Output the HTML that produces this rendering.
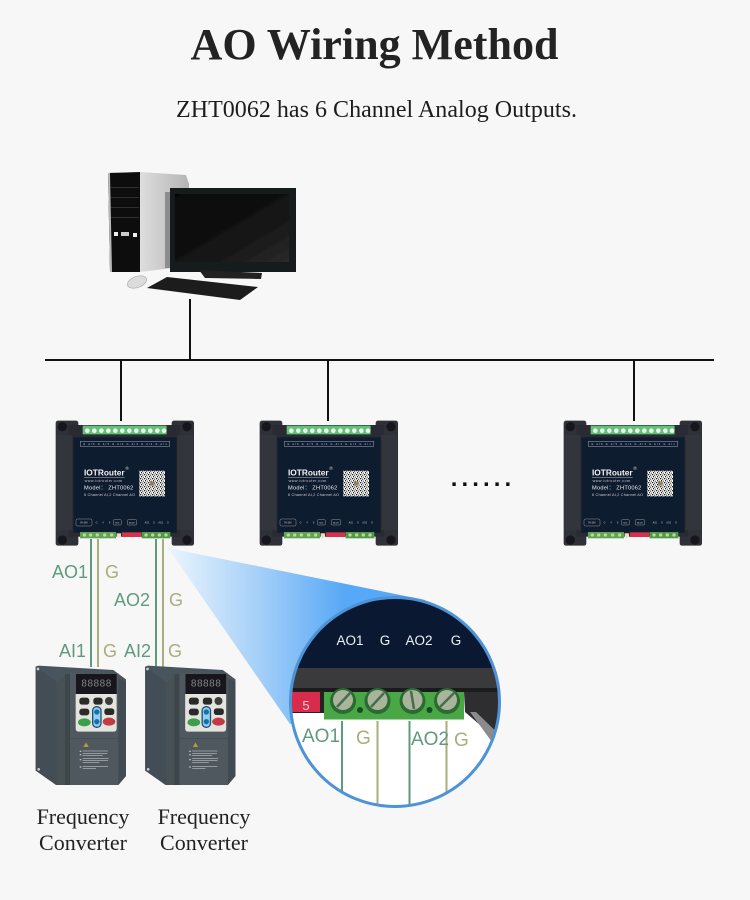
<!DOCTYPE html>
<html>
<head>
<meta charset="utf-8">
<style>
html,body{margin:0;padding:0;background:#f7f7f7;}
svg{display:block;}
text{font-family:"Liberation Sans",sans-serif;}
.serif{font-family:"Liberation Serif",serif;}
</style>
</head>
<body>
<svg width="750" height="900" viewBox="0 0 750 900" xmlns="http://www.w3.org/2000/svg">
<defs>
<linearGradient id="beam" gradientUnits="userSpaceOnUse" x1="170" y1="600" x2="345" y2="600">
<stop offset="0" stop-color="#eaf4fd"/>
<stop offset=".5" stop-color="#a6d0f8"/>
<stop offset="1" stop-color="#57a8f6"/>
</linearGradient>
<linearGradient id="tower" x1="0" x2="1" y1="0" y2="0">
<stop offset="0" stop-color="#dedede"/><stop offset="1" stop-color="#b4b4b4"/>
</linearGradient>
<linearGradient id="screen" x1="0" x2="1" y1="0" y2="1">
<stop offset="0" stop-color="#060606"/><stop offset=".6" stop-color="#141414"/><stop offset="1" stop-color="#2a2a2a"/>
</linearGradient>
<pattern id="qr" width="12" height="12" patternUnits="userSpaceOnUse">
<rect width="12" height="12" fill="#fff"/>
<rect x="0" y="0" width="4" height="4" fill="#222"/><rect x="6" y="2" width="4" height="3" fill="#333"/>
<rect x="3" y="6" width="3" height="4" fill="#222"/><rect x="8" y="8" width="4" height="3" fill="#444"/>
</pattern>
<clipPath id="lens"><circle cx="395" cy="702" r="104"/></clipPath>
<filter id="soft" x="-5%" y="-5%" width="110%" height="110%"><feGaussianBlur stdDeviation=".35"/></filter>

<g id="device">
<rect x="47" y="32" width="68" height="375" rx="7" fill="#2f3237"/>
<rect x="395" y="32" width="67" height="375" rx="7" fill="#2f3237"/>
<rect x="85" y="45" width="335" height="335" fill="#2a2c30"/>
<rect x="50" y="75" width="47" height="285" fill="#33363b"/>
<rect x="412" y="75" width="47" height="285" fill="#33363b"/>
<circle cx="67" cy="50" r="14" fill="#17181a"/><circle cx="441" cy="50" r="14" fill="#17181a"/>
<circle cx="67" cy="390" r="14" fill="#17181a"/><circle cx="441" cy="390" r="14" fill="#17181a"/>
<rect x="128" y="47" width="252" height="26" rx="2" fill="#62c078"/>
<g fill="#e9f7ea">
<circle cx="142" cy="62" r="7"/><circle cx="163" cy="62" r="7"/><circle cx="184" cy="62" r="7"/><circle cx="205" cy="62" r="7"/><circle cx="226" cy="62" r="7"/><circle cx="247" cy="62" r="7"/><circle cx="268" cy="62" r="7"/><circle cx="289" cy="62" r="7"/><circle cx="310" cy="62" r="7"/><circle cx="331" cy="62" r="7"/><circle cx="352" cy="62" r="7"/><circle cx="372" cy="62" r="7"/>
</g>
<rect x="100" y="82" width="310" height="286" fill="#0f1a2f"/>
<rect x="121" y="94" width="268" height="15" fill="none" stroke="#aab" stroke-width="1.5"/>
<text x="255" y="105" font-size="7" fill="#dde" text-anchor="middle" textLength="250" lengthAdjust="spacing">G AI6 G AI5 G AI4 G AI3 G AI2 G AI1</text>
<text x="132" y="196" font-size="26" font-weight="bold" fill="#f2f2f2" textLength="122" lengthAdjust="spacingAndGlyphs">IOTRouter</text>
<text x="256" y="180" font-size="14" fill="#ddd">®</text>
<text x="134" y="216" font-size="11" fill="#c8c8d0" textLength="112">www.iotrouter.com</text>
<rect x="132" y="202" width="122" height="1.5" fill="#bbb"/>
<text x="132" y="239" font-size="17" fill="#eee" textLength="148">Model： ZHT0062</text>
<text x="132" y="258" font-size="11.5" fill="#ccc" textLength="153">6 Channel AI,2 Channel AO</text>
<rect x="298" y="182" width="77" height="77" fill="url(#qr)"/>
<rect x="330" y="214" width="13" height="13" fill="#9a7b5a"/>
<rect x="108" y="327" width="48" height="21" rx="4" fill="none" stroke="#999" stroke-width="1.5"/>
<rect x="220" y="329" width="24" height="16" rx="3" fill="none" stroke="#999" stroke-width="1.5"/>
<rect x="262" y="329" width="28" height="16" rx="3" fill="none" stroke="#999" stroke-width="1.5"/>
<text x="132" y="341" font-size="7" fill="#ccc" text-anchor="middle">9V-36V</text>
<text x="167" y="341" font-size="7" fill="#ccc">G</text><text x="187" y="341" font-size="7" fill="#ccc">4</text><text x="207" y="341" font-size="7" fill="#ccc">8</text>
<text x="232" y="340" font-size="6" fill="#ccc" text-anchor="middle">BUS</text>
<text x="276" y="340" font-size="6" fill="#ccc" text-anchor="middle">ADDR</text>
<text x="314" y="341" font-size="7" fill="#ccc">AO1</text><text x="339" y="341" font-size="7" fill="#ccc">G</text><text x="355" y="341" font-size="7" fill="#ccc">AO2</text><text x="381" y="341" font-size="7" fill="#ccc">G</text>
<rect x="120" y="366" width="108" height="19" fill="#5fa653"/>
<rect x="305" y="366" width="86" height="19" fill="#4f9a45"/>
<rect x="246" y="367" width="58" height="14" fill="#d8324c"/>
<rect x="230" y="370" width="13" height="13" fill="#e6dfc8"/>
<g fill="#c9cfa6"><circle cx="133" cy="375" r="5"/><circle cx="152" cy="375" r="5"/><circle cx="172" cy="375" r="5"/><circle cx="194" cy="375" r="5"/><circle cx="215" cy="375" r="5"/><circle cx="318" cy="375" r="5"/><circle cx="338" cy="375" r="5"/><circle cx="358" cy="375" r="5"/><circle cx="378" cy="375" r="5"/></g>
</g>

<g id="vfd">
<polygon points="47,50 55,47 280,60 318,88 318,378 295,405 108,405 47,362" fill="#4a555b"/>
<polygon points="47,50 110,95 110,405 47,362" fill="#434e54"/>
<polygon points="110,95 150,70 150,405 110,405" fill="#465157"/>
<rect x="135" y="72" width="15" height="333" fill="#3c464b"/>
<polygon points="150,68 295,70 295,405 150,405" fill="#4f595e"/>
<polygon points="295,85 318,95 318,378 295,405" fill="#424c51"/>
<rect x="168" y="72" width="122" height="60" fill="#14181a"/>
<text x="229" y="109" font-size="30" fill="#85868a" text-anchor="middle" textLength="90">88888</text>
<path d="M167 132 H290 V235 Q290 245 280 245 H177 Q167 245 167 235 Z" fill="#e4e4df"/>
<rect x="178" y="143" width="30" height="21" rx="8" fill="#2b2b2b"/>
<rect x="220" y="143" width="28" height="21" rx="8" fill="#2b2b2b"/>
<circle cx="267" cy="153" r="12" fill="#3c3c3c"/>
<rect x="178" y="176" width="30" height="20" rx="8" fill="#2b2b2b"/>
<rect x="253" y="175" width="30" height="20" rx="8" fill="#2b2b2b"/>
<rect x="216" y="168" width="29" height="66" rx="14" fill="#244f78"/>
<rect x="220" y="172" width="21" height="58" rx="10" fill="#8fd0ee"/>
<circle cx="230.500" cy="186" r="8" fill="#1770a8"/><circle cx="230.500" cy="215" r="8" fill="#1770a8"/>
<ellipse cx="193" cy="217" rx="19" ry="12" fill="#3aa046"/>
<ellipse cx="267" cy="215" rx="19" ry="12" fill="#c23a42"/>
<rect x="150" y="265" width="145" height="2" fill="#424b50"/>
<polygon points="198,277 206,291 190,291" fill="#b29a3d"/>
<g fill="#b6bbbd">
<rect x="179" y="302" width="5" height="4"/><rect x="188" y="302" width="76" height="2"/>
<rect x="179" y="312" width="5" height="4"/><rect x="188" y="310" width="74" height="2"/><rect x="188" y="316" width="60" height="2"/>
<rect x="179" y="327" width="5" height="4"/><rect x="188" y="325" width="78" height="2"/><rect x="188" y="331" width="76" height="2"/><rect x="188" y="337" width="50" height="2"/>
<rect x="179" y="349" width="5" height="4"/><rect x="188" y="348" width="76" height="2"/><rect x="188" y="355" width="40" height="2"/>
</g>
<circle cx="54" cy="57" r="4" fill="#c9cdd0"/><circle cx="56" cy="358" r="4" fill="#c9cdd0"/>
</g>
</defs>

<rect width="750" height="900" fill="#f7f7f7"/>

<text class="serif" x="374.500" y="59" font-size="44" font-weight="bold" fill="#232323" text-anchor="middle" textLength="368" lengthAdjust="spacingAndGlyphs">AO Wiring Method</text>
<text class="serif" x="376.500" y="117" font-size="24" fill="#1d1d1d" text-anchor="middle" textLength="401">ZHT0062 has 6 Channel Analog Outputs.</text>

<!-- computer -->
<g filter="url(#soft)">
<polygon points="140,172 186,175 189,184 189,266 140,272" fill="url(#tower)"/>
<polygon points="108,173 140,172 140,272 110,272" fill="#0b0b0b"/>
<polygon points="108,173 110,173 112,272 110,272" fill="#b8b8b8"/>
<g fill="#2e2e2e"><rect x="111" y="187" width="28" height="1"/><rect x="111" y="197" width="28" height="1"/><rect x="111" y="207" width="28" height="1"/><rect x="111" y="217" width="28" height="1"/></g>
<rect x="114" y="232" width="4" height="4" fill="#eee"/><rect x="121" y="232" width="8" height="4" fill="#ccc"/><rect x="133" y="233" width="4" height="4" fill="#eee"/>
<rect x="165" y="192" width="8" height="76" fill="#8d8d8d"/>
<rect x="170" y="188" width="126" height="84" fill="#181a1c"/>
<rect x="175" y="194" width="114" height="68" fill="url(#screen)"/>
<rect x="229" y="272" width="8" height="4" fill="#222"/>
<polygon points="199,270 262,273 261,279 205,278" fill="#222"/>
<ellipse cx="137" cy="282" rx="10" ry="5.500" fill="#dcdcdc" stroke="#aaa" stroke-width=".7" transform="rotate(-20 137 282)"/>
<polygon points="147,288 167,277 258,287 240,300" fill="#1c1c1c"/>
</g>

<!-- bus -->
<g stroke="#111" stroke-width="2" fill="none">
<path d="M45 360H714"/>
<path d="M190 299V360"/>
<path d="M121 360V421"/>
<path d="M328 360V421"/>
<path d="M634 360V421"/>
</g>

<!-- beam -->
<polygon points="168,548 425,600 395,702 290,724" fill="url(#beam)"/>

<!-- devices -->
<g filter="url(#soft)">
<g transform="translate(40,410) scale(.33333)"><use href="#device"/></g>
<g transform="translate(244,410) scale(.33333)"><use href="#device"/></g>
<g transform="translate(548,410) scale(.33333)"><use href="#device"/></g>
</g>

<text x="450.700" y="486" font-size="24" fill="#111" font-weight="bold" letter-spacing="4.100">......</text>

<!-- wires -->
<g fill="none" stroke-width="2">
<path d="M91 539V667" stroke="#5f9a7c"/>
<path d="M98 539V667" stroke="#a9ad7c"/>
<path d="M156 539V667" stroke="#5f9a7c"/>
<path d="M163 539V667" stroke="#a9ad7c"/>
</g>
<g font-size="18">
<text x="52" y="578" fill="#5f9a7c">AO1</text>
<text x="105" y="578" fill="#a9ad7c">G</text>
<text x="114" y="606" fill="#5f9a7c">AO2</text>
<text x="169" y="606" fill="#a9ad7c">G</text>
<text x="59" y="657" fill="#5f9a7c">AI1</text>
<text x="103" y="657" fill="#a9ad7c">G</text>
<text x="124" y="657" fill="#5f9a7c">AI2</text>
<text x="168" y="657" fill="#a9ad7c">G</text>
</g>

<!-- converters -->
<g filter="url(#soft)">
<g transform="translate(20,650) scale(.33333)"><use href="#vfd"/></g>
<g transform="translate(129.500,650) scale(.33333)"><use href="#vfd"/></g>
</g>

<g class="serif" font-size="22" fill="#222" text-anchor="middle">
<text class="serif" x="83" y="824">Frequency</text>
<text class="serif" x="83" y="850">Converter</text>
<text class="serif" x="204" y="824">Frequency</text>
<text class="serif" x="204" y="850">Converter</text>
</g>

<!-- lens -->
<circle cx="395" cy="702" r="105" fill="#fff"/>
<g clip-path="url(#lens)">
<rect x="280" y="590" width="230" height="79" fill="#0a1832"/>
<rect x="280" y="668" width="230" height="23" fill="#3a3a3c"/>
<rect x="280" y="688" width="230" height="4" fill="#1b1b1c"/>
<rect x="280" y="691" width="44" height="22" fill="#222"/>
<rect x="280" y="692" width="40" height="20" fill="#d92b4c"/>
<text x="306" y="710" font-size="13" fill="#f6c9d0" text-anchor="middle">5</text>
<polygon points="464,692 510,692 510,750 494,737 465,712" fill="#2e2e30"/>
<polygon points="470,712 476,712 510,745 510,760 492,742" fill="#8b8b8d"/>
<rect x="324" y="692" width="140" height="27.500" fill="#49a845"/>
<g fill="#2c6a34"><circle cx="343" cy="701" r="13"/><circle cx="377.500" cy="701" r="13"/><circle cx="412.500" cy="701" r="13"/><circle cx="447" cy="701" r="13"/></g>
<g fill="#a9b59b"><circle cx="343" cy="700" r="10"/><circle cx="377.500" cy="700" r="10"/><circle cx="412.500" cy="700" r="10"/><circle cx="447" cy="700" r="10"/></g>
<g stroke="#4b6a50" stroke-width="2.500"><path d="M337 707L350 693"/><path d="M371 707L384 693"/><path d="M411 691L414 709"/><path d="M440 707L454 693"/></g>
<circle cx="360" cy="710" r="3" fill="#164d24"/><circle cx="429.500" cy="710" r="3" fill="#164d24"/>
<g fill="none" stroke-width="2">
<path d="M342 721V795" stroke="#5f9a7c"/>
<path d="M377.500 721V810" stroke="#a9ad7c"/>
<path d="M409.500 721V810" stroke="#5f9a7c"/>
<path d="M446.500 721V795" stroke="#a9ad7c"/>
</g>
</g>
<circle cx="395" cy="702" r="104.500" fill="none" stroke="#4d93d6" stroke-width="3"/>
<g font-size="13.500" fill="#eef1f5" text-anchor="middle">
<text x="350" y="645">AO1</text>
<text x="385" y="645">G</text>
<text x="419" y="645">AO2</text>
<text x="456" y="645">G</text>
</g>
<g font-size="19">
<text x="302" y="742" fill="#5f9a7c">AO1</text>
<text x="356" y="744" fill="#a9ad7c">G</text>
<text x="411" y="745" fill="#5f9a7c">AO2</text>
<text x="454" y="746" fill="#a9ad7c">G</text>
</g>
</svg>
</body>
</html>
